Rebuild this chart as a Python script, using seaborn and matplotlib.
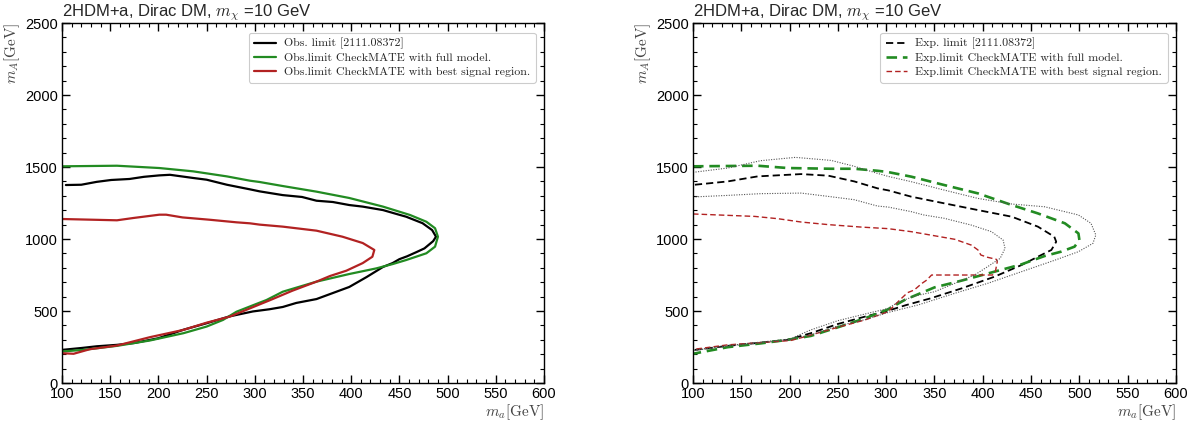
import matplotlib
matplotlib.use("Agg")
import matplotlib.pyplot as plt
from matplotlib.ticker import MultipleLocator
import seaborn as sns
import pandas as pd

# ---------------- data ----------------
# Left panel: observed limits
obs_ref_x = [104, 120, 136, 151, 170, 185, 201, 212, 236, 250, 271, 295, 305, 329, 349, 364, 381, 398, 412, 433,
             448, 457, 474, 484, 488, 485, 476, 468, 458, 450, 443, 433, 416, 398, 381, 364, 343, 329, 315, 298,
             274, 250, 226, 200, 175, 157, 136, 120, 100]
obs_ref_y = [1375, 1377, 1397, 1410, 1417, 1432, 1442, 1446, 1424, 1412, 1377, 1345, 1331, 1305, 1292, 1266, 1257,
             1236, 1225, 1201, 1172, 1155, 1110, 1062, 1016, 985, 935, 910, 880, 860, 833, 806, 736, 667, 625, 583,
             556, 528, 512, 497, 463, 415, 370, 311, 278, 265, 255, 243, 230]

obs_full_x = [100, 157, 201, 236, 271, 295, 305, 329, 364, 398, 433, 461, 478, 487, 490, 487, 478, 457, 443, 426,
              398, 364, 329, 312, 305, 281, 267, 250, 226, 191, 157, 122, 100]
obs_full_y = [1505, 1509, 1493, 1470, 1435, 1405, 1396, 1368, 1329, 1285, 1225, 1167, 1120, 1075, 1016, 947, 901,
              854, 826, 796, 757, 704, 634, 576, 558, 495, 438, 392, 346, 295, 258, 230, 219]

obs_best_x = [100, 157, 174, 201, 208, 225, 253, 281, 295, 305, 329, 364, 391, 412, 424, 422, 412, 395, 378, 364,
              339, 316, 305, 274, 250, 226, 191, 157, 129, 112, 100]
obs_best_y = [1139, 1130, 1146, 1169, 1169, 1150, 1134, 1116, 1109, 1100, 1086, 1058, 1016, 972, 924, 877, 833,
              780, 743, 704, 641, 576, 546, 461, 419, 369, 318, 260, 235, 203, 207]

# Right panel: expected limits
exp_ref_x = [102, 136, 167, 212, 240, 267, 291, 302, 326, 360, 395, 430, 457, 474, 476, 471, 457, 440, 412, 378,
             346, 320, 302, 278, 250, 222, 198, 171, 136, 102]
exp_ref_y = [1377, 1400, 1435, 1451, 1440, 1400, 1352, 1338, 1294, 1248, 1201, 1155, 1086, 1016, 981, 924, 877,
             819, 738, 657, 588, 540, 502, 461, 410, 346, 300, 281, 258, 230]

exp_full_x = [100, 167, 198, 243, 267, 291, 302, 326, 360, 395, 430, 457, 485, 499, 500, 495, 481, 464, 440, 412,
              378, 350, 320, 302, 278, 250, 222, 198, 171, 136, 100]
exp_full_y = [1505, 1509, 1493, 1488, 1488, 1474, 1465, 1433, 1375, 1317, 1236, 1178, 1109, 1039, 993, 947, 912,
              882, 824, 773, 711, 664, 580, 512, 449, 387, 327, 300, 276, 249, 203]

exp_best_x = [100, 164, 188, 212, 240, 274, 302, 326, 371, 388, 395, 398, 405, 414, 415, 413, 410, 347, 342, 337,
              329, 322, 314, 302, 278, 250, 214, 201, 171, 136, 102]
exp_best_y = [1174, 1157, 1141, 1118, 1100, 1083, 1072, 1051, 998, 958, 924, 889, 873, 859, 843, 773, 750, 750,
              715, 692, 646, 627, 576, 495, 438, 387, 318, 295, 281, 265, 235]

exp_up_x = [100, 136, 170, 206, 243, 267, 291, 302, 326, 360, 395, 430, 464, 499, 512, 517, 514, 499, 475, 440,
            405, 371, 333, 302, 278, 250, 222, 200, 171, 136, 100]
exp_up_y = [1463, 1493, 1544, 1567, 1546, 1505, 1456, 1435, 1398, 1340, 1282, 1243, 1224, 1167, 1109, 1028, 970,
            912, 854, 773, 692, 623, 542, 490, 440, 396, 334, 300, 280, 255, 225]

exp_dn_x = [100, 136, 170, 212, 240, 267, 291, 302, 326, 339, 360, 388, 409, 421, 423, 418, 405, 392, 371, 350,
            330, 312, 302, 278, 250, 222, 200, 171, 136, 100]
exp_dn_y = [1292, 1303, 1315, 1319, 1296, 1273, 1229, 1222, 1190, 1167, 1144, 1097, 1051, 993, 935, 866, 808, 752,
            692, 634, 605, 560, 518, 479, 433, 369, 305, 285, 260, 228]

labels_obs = ["Obs. limit [2111.08372]",
              "Obs.limit CheckMATE with full model.",
              "Obs.limit CheckMATE with best signal region."]
labels_exp = ["Exp. limit [2111.08372]",
              "Exp.limit CheckMATE with full model.",
              "Exp.limit CheckMATE with best signal region."]
title_text = r"2HDM+a, Dirac DM, $m_\chi$ =10 GeV"
x_ticks = [100, 150, 200, 250, 300, 350, 400, 450, 500, 550, 600]
y_ticks = [0, 500, 1000, 1500, 2000, 2500]

# ---------------- style ----------------
sns.set_theme(style="ticks")
plt.rcParams["font.family"] = ["Liberation Sans", "DejaVu Sans"]
plt.rcParams["mathtext.fontset"] = "cm"

BLACK = "#000000"
GREEN = "#228B22"
RED = "#B22222"

fig = plt.figure(figsize=(11.95, 4.25), dpi=100)
axL = fig.add_axes([0.0519, 0.0988, 0.4033, 0.847])
axR = fig.add_axes([0.5799, 0.0988, 0.4042, 0.847])


def curve(ax, xs, ys, label, color, lw, dashes=None):
    df = pd.DataFrame({"x": xs, "y": ys})
    sns.lineplot(data=df, x="x", y="y", sort=False, estimator=None, ax=ax,
                 color=color, lw=lw, label=label)
    line = ax.get_lines()[-1]
    if dashes is not None:
        line.set_dashes(dashes)
    return line


# Left panel
curve(axL, obs_ref_x, obs_ref_y, labels_obs[0], BLACK, 1.6)
curve(axL, obs_full_x, obs_full_y, labels_obs[1], GREEN, 1.6)
curve(axL, obs_best_x, obs_best_y, labels_obs[2], RED, 1.6)

# Right panel
curve(axR, exp_ref_x, exp_ref_y, labels_exp[0], BLACK, 1.3, dashes=(4, 2.2))
curve(axR, exp_full_x, exp_full_y, labels_exp[1], GREEN, 1.9, dashes=(4, 2.2))
curve(axR, exp_best_x, exp_best_y, labels_exp[2], RED, 1.0, dashes=(4, 2.2))
curve(axR, exp_up_x, exp_up_y, None, "#555555", 0.8, dashes=(1, 1.3))
curve(axR, exp_dn_x, exp_dn_y, None, "#555555", 0.8, dashes=(1, 1.3))

for ax in (axL, axR):
    ax.set_xlim(100, 600)
    ax.set_ylim(0, 2500)
    ax.set_xticks(x_ticks)
    ax.set_yticks(y_ticks)
    ax.xaxis.set_minor_locator(MultipleLocator(10))
    ax.yaxis.set_minor_locator(MultipleLocator(100))
    ax.tick_params(which="both", direction="in", top=True, right=True, colors="black",
                   labelsize=10.5, labelcolor="black")
    ax.tick_params(which="major", length=6, width=1, pad=3)
    ax.tick_params(which="minor", length=3, width=0.8)
    for s in ax.spines.values():
        s.set_color("black")
        s.set_linewidth(1.0)
    ax.set_xlabel(r"$m_a[\mathrm{GeV}]$", loc="right", fontsize=11, color="#444444", labelpad=1)
    ax.set_ylabel(r"$m_A[\mathrm{GeV}]$", loc="top", fontsize=11, color="#444444", labelpad=2)
    ax.set_title(title_text, loc="left", fontsize=12, pad=3)
    ax.set_facecolor("white")
    leg = ax.legend(loc="upper right", prop={"family": "cmr10", "size": 8.6},
                    frameon=True, fancybox=True, framealpha=1, edgecolor="#cccccc",
                    handlelength=1.8, handletextpad=0.7, borderpad=0.45, labelspacing=0.3,
                    bbox_to_anchor=(0.995, 0.99))
    leg.get_frame().set_linewidth(0.8)

fig.savefig("out.png", dpi=100, facecolor="white")
